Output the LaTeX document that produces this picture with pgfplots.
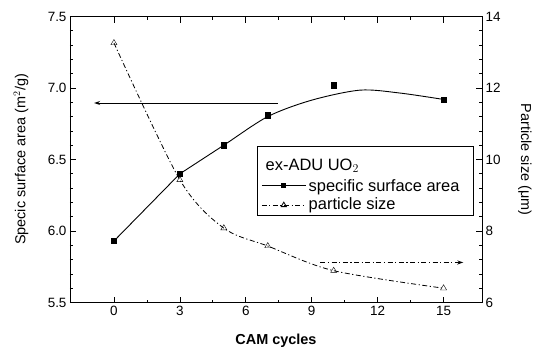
\documentclass[border=0pt]{standalone}
\usepackage{fontspec}
\setmainfont{Liberation Sans}
\usepackage{pgfplots}
\pgfplotsset{compat=1.18}
\usetikzlibrary{arrows.meta}
\tikzset{dashdotstyle/.style={dash pattern=on 5bp off 2.5bp on 1.2bp off 2.5bp}}
\begin{document}
\begin{tikzpicture}
\path[use as bounding box] (-70bp,-46.5bp) rectangle (476bp,302.5bp);
\begin{axis}[
  at={(0,0)}, anchor=south west,
  scale only axis, width=412bp, height=286bp,
  xmin=-2, xmax=16.75, ymin=5.5, ymax=7.5,
  xtick={0,3,...,15}, minor x tick num=1,
  ytick={5.5,6.0,...,7.5}, minor y tick num=4,
  yticklabel style={/pgf/number format/fixed, /pgf/number format/fixed zerofill, /pgf/number format/precision=1},
  tick align=inside, xtick pos=both, ytick pos=left,
  major tick length=6bp, minor tick length=3bp,
  axis line style={line width=0.9bp},
  every tick/.style={black, line width=0.7bp},
  ticklabel style={font=\fontsize{13.5}{15}\selectfont},
  /pgf/number format/assume math mode=true,
  xlabel={\textbf{CAM cycles}},
  ylabel={Specic surface area (m$^2$/g)},
  label style={font=\fontsize{14.5}{16}\selectfont},
  xlabel style={at={(axis description cs:0.5,-0.135)}, anchor=center},
  ylabel style={at={(axis description cs:-0.119,0.5)}, anchor=center},
]
\addplot[black, line width=0.9bp] coordinates {(0,5.93) (3,6.40)};
\addplot[black, line width=0.9bp, smooth] coordinates {(3,6.40) (5,6.60) (7,6.80) (9,6.915) (11.2,6.985) (13,6.965) (15,6.92)};
\addplot[black, only marks, mark=square*, mark size=2.6bp] coordinates {(0,5.93) (3,6.40) (5,6.60) (7,6.81) (10,7.02) (15,6.92)};
\addplot[black, line width=1bp, -{Stealth[length=6bp,width=4bp]}] coordinates {(7.45,6.895) (-0.9,6.895)};
\end{axis}
\begin{axis}[
  at={(0,0)}, anchor=south west,
  scale only axis, width=412bp, height=286bp,
  xmin=-2, xmax=16.75, ymin=6, ymax=14,
  hide x axis, axis y line*=right,
  ytick={6,8,...,14}, minor y tick num=4,
  tick align=inside, ytick pos=right,
  major tick length=6bp, minor tick length=3bp,
  axis line style={line width=0.9bp},
  every tick/.style={black, line width=0.7bp},
  ticklabel style={font=\fontsize{13.5}{15}\selectfont},
  /pgf/number format/assume math mode=true,
  ylabel={Particle size (μm)},
  label style={font=\fontsize{14.5}{16}\selectfont},
  ylabel style={at={(axis description cs:1.104,0.5)}, anchor=center, rotate=180},
  legend style={at={(0.454,0.547)}, anchor=north west, draw=black, line width=0.6bp,
    font=\fontsize{16.5}{19}\selectfont, inner xsep=4bp, inner ysep=1bp, row sep=0bp,
    nodes={inner sep=1.5bp, text depth=3bp}, column sep=1bp},
  legend cell align=left,
  legend image code/.code={\draw[mark repeat=2,mark phase=2,#1] plot coordinates {(0bp,0bp) (22bp,0bp) (44bp,0bp)};},
]
\addplot[black, line width=0.8bp, dashdotstyle, smooth, forget plot] coordinates {(0,13.26) (3,9.43) (5,8.08) (7,7.58) (10,6.89) (15,6.40)};
\addplot[black, only marks, mark=triangle, mark size=3.5bp, forget plot] coordinates {(0,13.26) (3,9.43) (5,8.08) (7,7.58) (10,6.89) (15,6.40)};
\addplot[black, line width=1bp, dashdotstyle, -{Stealth[length=6bp,width=4bp]}, forget plot] coordinates {(9.4,7.12) (15.9,7.12)};
\addlegendimage{empty legend}
\addlegendentry{\hspace*{-43bp}ex-ADU UO$_2$\rule{0pt}{21.5bp}}
\addlegendimage{black, line width=0.9bp, mark=square*, mark size=2bp}
\addlegendentry{specific surface area\rule{0pt}{15bp}\hspace*{8bp}}
\addlegendimage{black, line width=0.8bp, dashdotstyle, mark=triangle, mark size=3bp, mark options={solid}}
\addlegendentry{particle size\rule{0pt}{12.5bp}}
\end{axis}
\end{tikzpicture}
\end{document}
